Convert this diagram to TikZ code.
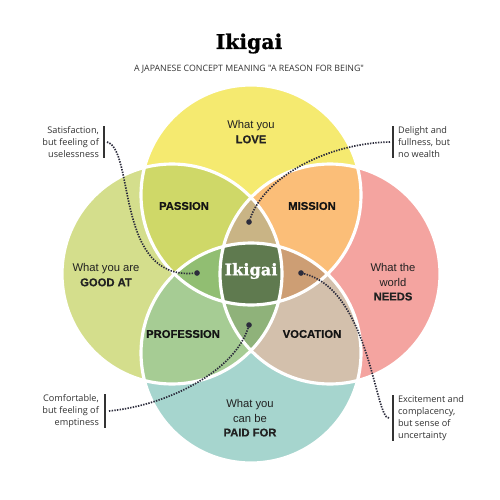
\documentclass[tikz,border=0pt]{standalone}
\usepackage{fontspec}
\setmainfont{Liberation Sans}[BoldFeatures={FakeBold=0.6}]
\newfontfamily\slabfont{DejaVu Serif}[BoldFeatures={FakeBold=0.8}]
\newfontfamily\notefont{Open Sans}

\usetikzlibrary{calc}
\usetikzlibrary{positioning}

\definecolor{lovecol}{RGB}{245,234,112}
\definecolor{goodcol}{RGB}{212,222,140}
\definecolor{needscol}{RGB}{244,164,160}
\definecolor{paidcol}{RGB}{166,213,206}
\definecolor{passioncol}{RGB}{207,216,104}
\definecolor{missioncol}{RGB}{251,190,120}
\definecolor{professioncol}{RGB}{166,204,148}
\definecolor{vocationcol}{RGB}{211,192,172}
\definecolor{uplenscol}{RGB}{201,180,133}
\definecolor{leftlenscol}{RGB}{145,190,114}
\definecolor{rightlenscol}{RGB}{205,158,116}
\definecolor{lowlenscol}{RGB}{143,178,122}
\definecolor{ikigaicol}{RGB}{95,122,79}
\definecolor{textgray}{RGB}{34,34,34}
\definecolor{notegray}{RGB}{51,51,51}
\definecolor{dotcol}{RGB}{44,44,60}

\newcommand{\circR}{110}

\begin{document}
\begin{tikzpicture}[x=0.5mm, y=-0.5mm, font=\fontsize{16}{20.5}\selectfont]
    \tikzstyle{ring}=[draw=white, line width=4.5pt]
    \tikzstyle{circtext}=[align=center, text=textgray, inner sep=0pt]
    \tikzstyle{region}=[font=\fontsize{16}{20}\selectfont\bfseries, text=black!92, inner sep=0pt]
    \tikzstyle{annot}=[font=\notefont\fontsize{13}{17}\selectfont, text=notegray, inner sep=0pt]
    \tikzstyle{annotbar}=[draw=notegray, line width=2.5pt]
    \tikzstyle{enddot}=[circle, fill=dotcol, minimum size=8pt, inner sep=0pt]
    \tikzstyle{dotline}=[draw=dotcol, line width=2.4pt, dash pattern=on 2pt off 1.8pt]

    \useasboundingbox[fill=white] (0,0) rectangle (500,500);

    % title
    \node[font=\slabfont\bfseries\fontsize{29}{30}\selectfont, text=black, anchor=base] (title) at (249,49) {Ikigai};
    \node[font=\notefont\fontsize{12.5}{14}\selectfont, text=notegray, below=9pt of title] (subtitle) {A JAPANESE CONCEPT MEANING "A REASON FOR BEING"};

    % circle centres
    \coordinate (cT) at (251,195);
    \coordinate (cL) at (172,274);
    \coordinate (cR) at (330,274);
    \coordinate (cB) at (251,353);

    \fill[lovecol] (cT) circle (\circR);
    \fill[goodcol] (cL) circle (\circR);
    \fill[needscol] (cR) circle (\circR);
    \fill[paidcol] (cB) circle (\circR);

    % two circles
    \begin{scope}
        \clip (cT) circle (\circR);
        \fill[passioncol] (cL) circle (\circR);
        \fill[missioncol] (cR) circle (\circR);
    \end{scope}
    \begin{scope}
        \clip (cB) circle (\circR);
        \fill[professioncol] (cL) circle (\circR);
        \fill[vocationcol] (cR) circle (\circR);
    \end{scope}

    % three circles
    \begin{scope}
        \clip (cL) circle (\circR);
        \clip (cR) circle (\circR);
        \fill[uplenscol] (cT) circle (\circR);
        \fill[lowlenscol] (cB) circle (\circR);
    \end{scope}
    \begin{scope}
        \clip (cT) circle (\circR);
        \clip (cB) circle (\circR);
        \fill[leftlenscol] (cL) circle (\circR);
        \fill[rightlenscol] (cR) circle (\circR);
    \end{scope}

    % all four
    \begin{scope}
        \clip (cT) circle (\circR);
        \clip (cB) circle (\circR);
        \clip (cL) circle (\circR);
        \fill[ikigaicol] (cR) circle (\circR);
    \end{scope}

    \foreach \c in {cT,cL,cR,cB}
        \draw[ring] (\c) circle (\circR);

    % circle texts
    \node[circtext] (love) at (251,132) {What you\\\textbf{LOVE}};
    \node[circtext] (good) at (106,275) {What you are\\\textbf{GOOD AT}};
    \node[circtext] (needs) at (393,282) {What the\\world\\\textbf{NEEDS}};
    \node[circtext] (paid) at (250,418) {What you\\can be\\\textbf{PAID FOR}};

    \node[region] (passion) at (184,206) {PASSION};
    \node[region] (mission) at (312,206) {MISSION};
    \node[region] (profession) at (183,334) {PROFESSION};
    \node[region] (vocation) at (312,334) {VOCATION};

    \node[font=\slabfont\bfseries\fontsize{23}{24}\selectfont, text=white] (ikigai) at (251,271) {Ikigai};

    % annotations
    \node[annot, anchor=east, align=right] (satis) at (99,142) {Satisfaction,\\but feeling of\\uselessness};
    \node[annot, anchor=west, align=left] (delight) at (398,142) {Delight and\\fullness, but\\no wealth};
    \node[annot, anchor=east, align=right] (comfort) at (99,411) {Comfortable,\\but feeling of\\emptiness};
    \node[annot, anchor=west, align=left] (excite) at (398,418) {Excitement and\\complacency,\\but sense of\\uncertainty};

    \draw[annotbar] ($(satis.north east)+(5,0)$) -- ($(satis.south east)+(5,0)$);
    \draw[annotbar] ($(delight.north west)-(5,0)$) -- ($(delight.south west)-(5,0)$);
    \draw[annotbar] ($(comfort.north east)+(6,0)$) -- ($(comfort.south east)+(6,0)$);
    \draw[annotbar] ($(excite.north west)-(5,0)$) -- ($(excite.south west)-(5,0)$);

    \coordinate (satisend) at ($(satis.east)+(8,0)$);
    \coordinate (delightend) at ($(delight.west)-(8,0)$);
    \coordinate (comfortend) at ($(comfort.east)+(10,0)$);
    \coordinate (exciteend) at ($(excite.west)-(9,0)$);

    \node[enddot] (dotL) at (197,273) {};
    \node[enddot] (dotT) at (249,222) {};
    \node[enddot] (dotB) at (249,325) {};
    \node[enddot] (dotR) at (301,273) {};

    \draw[dotline] (satisend) .. controls (135,150) and (115,280) .. (dotL);
    \draw[dotline] (delightend) .. controls (330,143) and (265,175) .. (dotT);
    \draw[dotline] (comfortend) .. controls (170,405) and (235,370) .. (dotB);
    \draw[dotline] (exciteend) .. controls (375,420) and (370,290) .. (dotR);
\end{tikzpicture}
\end{document}
